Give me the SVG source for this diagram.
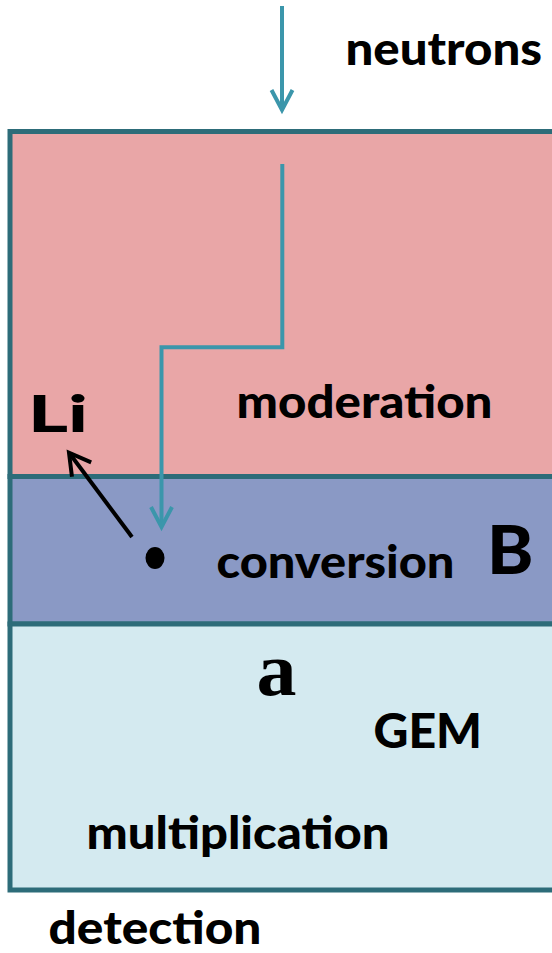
<svg xmlns="http://www.w3.org/2000/svg" width="552" height="953" viewBox="0 0 552 953">
  <style>
    .box { stroke: #2D6C79; stroke-width: 5; }
    .lbl { font-family: Lato, "Open Sans", "Liberation Sans", sans-serif; font-weight: 900; fill: #000; }
    .teal { fill: none; stroke: #3B96AB; stroke-width: 4; }
    .blk { fill: none; stroke: #000; stroke-width: 4; }
  </style>
  <defs>
    <marker id="vTeal" markerUnits="userSpaceOnUse" markerWidth="40" markerHeight="40" refX="-2" refY="0" orient="auto" viewBox="-30 -20 40 40" overflow="visible">
      <path d="M-20,-10.5 L0,0 L-20,10.5" fill="none" stroke="#3B96AB" stroke-width="4"/>
    </marker>
    <marker id="vBlack" markerUnits="userSpaceOnUse" markerWidth="40" markerHeight="40" refX="-2" refY="0" orient="auto" viewBox="-30 -20 40 40" overflow="visible">
      <path d="M-21,-12 L0,0 L-21,12" fill="none" stroke="#000" stroke-width="4"/>
    </marker>
  </defs>
  <rect width="552" height="953" fill="#FFFFFF"/>

  <g id="moderation">
    <rect class="box" x="10" y="131.5" width="560" height="345" fill="#E9A6A7"/>
    <text class="lbl" x="236.5" y="418.3" font-size="46" textLength="256" lengthAdjust="spacingAndGlyphs">moderation</text>
  </g>
  <g id="conversion">
    <rect class="box" x="10" y="476.5" width="560" height="147.5" fill="#8A99C5"/>
    <text class="lbl" x="216.5" y="578.3" font-size="46" textLength="238" lengthAdjust="spacingAndGlyphs">conversion</text>
  </g>
  <g id="multiplication">
    <rect class="box" x="10" y="624" width="560" height="266" fill="#D4EAF0"/>
    <text class="lbl" x="86.5" y="849" font-size="46" textLength="303" lengthAdjust="spacingAndGlyphs">multiplication</text>
  </g>

  <g id="labels">
    <text class="lbl" x="345.5" y="65" font-size="46" textLength="196.5" lengthAdjust="spacingAndGlyphs">neutrons</text>
    <text class="lbl" x="48.5" y="944" font-size="46" textLength="213" lengthAdjust="spacingAndGlyphs">detection</text>
    <text class="lbl" x="373.5" y="748.3" font-size="47" textLength="108.5" lengthAdjust="spacingAndGlyphs">GEM</text>
    <text class="lbl" x="487" y="574.3" font-size="66" textLength="46.5" lengthAdjust="spacingAndGlyphs">B</text>
    <text class="lbl" x="28" y="432" font-size="52" textLength="60" lengthAdjust="spacingAndGlyphs">Li</text>
    <text x="256.5" y="695" font-family="'Liberation Serif', serif" font-weight="bold" font-size="76" textLength="40" lengthAdjust="spacingAndGlyphs">a</text>
  </g>

  <g id="particle">
    <ellipse cx="155" cy="558" rx="9.5" ry="11" fill="#000"/>
  </g>

  <g id="connectors">
    <line class="teal" x1="282" y1="6" x2="282" y2="108" marker-end="url(#vTeal)"/>
    <polyline class="teal" points="282.3,164 282.3,347.3 161.5,347.3 161.5,525" marker-end="url(#vTeal)"/>
    <line class="blk" x1="132" y1="537" x2="70.2" y2="454.3" marker-end="url(#vBlack)"/>
  </g>
</svg>
